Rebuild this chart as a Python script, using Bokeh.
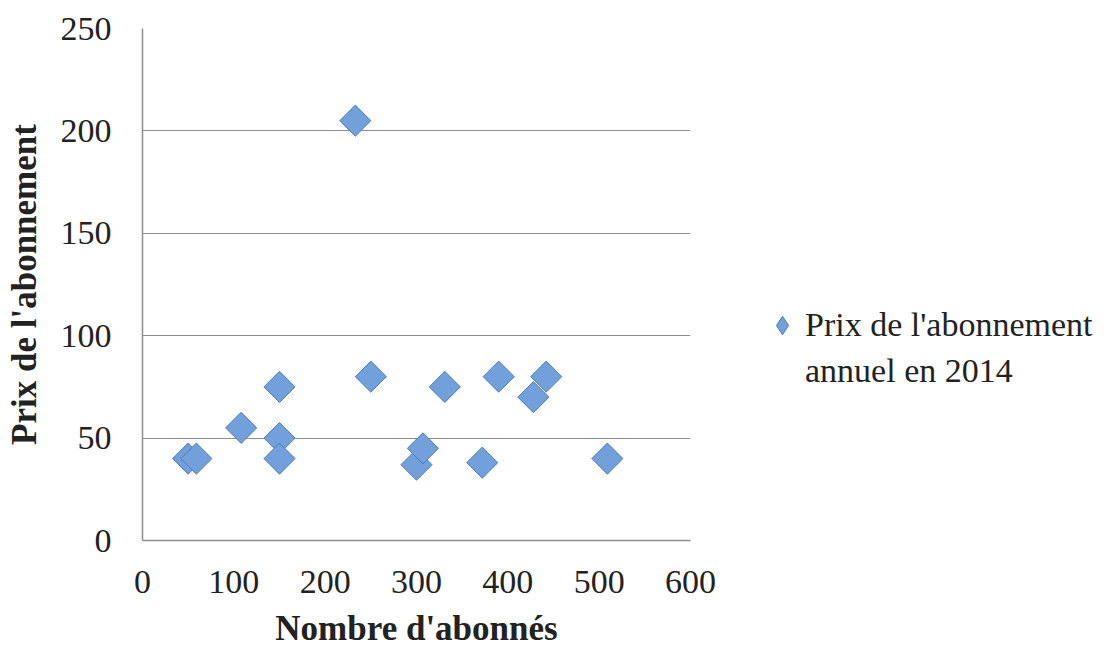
import math
from bokeh.plotting import figure
from bokeh.models import ColumnDataSource, Legend, LegendItem, FixedTicker, Range1d
from bokeh.embed import file_html
from bokeh.resources import INLINE

# Data
abonnes = [50, 59, 108, 150, 150, 150, 233, 250, 300, 307, 331, 372, 390, 428, 442, 509]
prix = [40, 40, 55, 75, 50, 40, 205, 80, 37, 45, 75, 38, 80, 70, 80, 40]
x_ticks = [0, 100, 200, 300, 400, 500, 600]
y_ticks = [0, 50, 100, 150, 200, 250]
series_lines = ["Prix de l'abonnement", "annuel en 2014"]
x_title = "Nombre d'abonnés"
y_title = "Prix de l'abonnement"

FONT = "Liberation Serif"
FS = "34px"
FS_T = "35px"
FILL = "#72a0db"
EDGE = "#4a7dbb"

src = ColumnDataSource(dict(x=abonnes, y=prix))

p = figure(frame_width=548, frame_height=512, output_backend="svg", toolbar_location=None,
           x_range=Range1d(0, 600), y_range=Range1d(0, 250),
           min_border_left=142, min_border_right=0, min_border_top=28, min_border_bottom=0)
p.outline_line_color = None
p.background_fill_color = "white"
p.border_fill_color = "white"

r = p.scatter("x", "y", source=src, marker="square", size=22, angle=math.pi / 4,
              fill_color=FILL, line_color=EDGE, line_width=1)

# legend-only renderers (zero size in the plot): a diamond swatch, and an
# invisible one for the second text line
r_sw = p.scatter("x", "y", source=src, marker="diamond", size=0,
                 fill_color=FILL, line_color=EDGE, line_width=1)
r_none = p.scatter("x", "y", source=src, marker="diamond", size=0,
                   fill_alpha=0, line_alpha=0)

p.xaxis.ticker = FixedTicker(ticks=x_ticks)
p.yaxis.ticker = FixedTicker(ticks=y_ticks)
for ax in (p.xaxis, p.yaxis):
    ax.major_tick_line_color = None
    ax.minor_tick_line_color = None
    ax.axis_line_color = "#8c8c8c"
    ax.axis_line_width = 1.5
    ax.major_label_text_font = FONT
    ax.major_label_text_font_size = FS
    ax.major_label_text_color = "#222222"
    ax.axis_label_text_font = FONT
    ax.axis_label_text_font_size = FS_T
    ax.axis_label_text_font_style = "bold"
    ax.axis_label_text_color = "#222222"
p.xaxis.axis_label = x_title
p.yaxis.axis_label = y_title
p.xaxis.major_label_standoff = 24
p.yaxis.major_label_standoff = 25
p.xaxis.axis_label_standoff = 13
p.yaxis.axis_label_standoff = 14

p.xgrid.grid_line_color = None
p.ygrid.grid_line_color = "#8c8c8c"
p.ygrid.grid_line_width = 1.2

legend = Legend(items=[LegendItem(label=series_lines[0], renderers=[r_sw]),
                       LegendItem(label=series_lines[1], renderers=[r_none])],
                location=(69, 146), orientation="vertical",
                label_text_font=FONT, label_text_font_size=FS,
                label_text_color="#222222", glyph_width=46, glyph_height=46,
                label_standoff=-4, spacing=-6, border_line_color=None, background_fill_alpha=0,
                padding=0, margin=0)
p.add_layout(legend, "right")

open("out.html", "w").write(file_html(p, INLINE))
